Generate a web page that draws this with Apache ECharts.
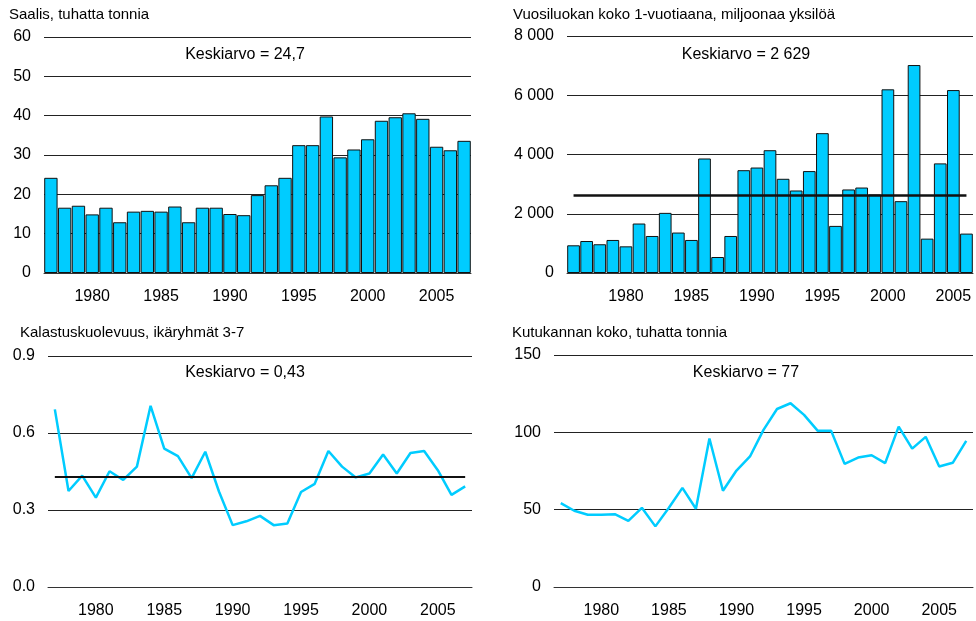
<!DOCTYPE html>
<html>
<head>
<meta charset="utf-8">
<script src="https://cdn.jsdelivr.net/npm/echarts@6/dist/echarts.min.js"></script>
<style>
  html, body { margin: 0; padding: 0; background: #fff; }
  #chart { width: 976px; height: 621px; }
</style>
</head>
<body>
<div id="chart"></div>
<script>
// vuodet
var years1 = [];   // 1977-2007 (saalis, kuolevuus, kutukanta)
for (var y = 1977; y <= 2007; y++) years1.push(String(y));
var years2 = [];   // 1976-2006 (vuosiluokka)
for (var y = 1976; y <= 2006; y++) years2.push(String(y));

// Saalis, tuhatta tonnia
var catch_ = [24.2, 16.6, 17.1, 14.9, 16.6, 12.9, 15.6, 15.8, 15.6, 16.9,
              12.9, 16.6, 16.6, 15.0, 14.7, 19.8, 22.3, 24.2, 32.5, 32.5,
              39.8, 29.4, 31.4, 34.0, 38.7, 39.6, 40.6, 39.2, 32.1, 31.2, 33.6];

// Vuosiluokan koko 1-vuotiaana, miljoonaa yksilöä
var recruits = [935, 1080, 970, 1115, 900, 1670, 1250, 2030, 1365, 1115,
                3865, 540, 1250, 3470, 3560, 4145, 3180, 2785, 3440, 4720,
                1590, 2820, 2885, 2650, 6200, 2425, 7020, 1160, 3700, 6175, 1330];

// Kalastuskuolevuus, ikäryhmät 3-7
var mortality = [0.692, 0.374, 0.434, 0.348, 0.451, 0.417, 0.469, 0.706, 0.539, 0.510,
                 0.424, 0.527, 0.372, 0.241, 0.256, 0.277, 0.241, 0.247, 0.370, 0.402,
                 0.530, 0.469, 0.427, 0.442, 0.516, 0.442, 0.522, 0.530, 0.455, 0.359, 0.392];

// Kutukannan koko, tuhatta tonnia
var ssb = [54.2, 49.3, 46.7, 46.7, 47.1, 42.8, 51.2, 39.2, 51.2, 64.1,
           50.6, 96.0, 62.2, 75.3, 84.4, 101.6, 115.1, 118.8, 111.3, 101.1,
           101.1, 79.6, 83.7, 85.2, 80.1, 103.7, 89.5, 97.1, 77.9, 80.3, 94.5];

// keskiarvot
var meanRecruits = 2629;
var meanMortality = 0.43;

var titles = ["Saalis, tuhatta tonnia", "Vuosiluokan koko 1-vuotiaana, miljoonaa yksilöä",
              "Kalastuskuolevuus, ikäryhmät 3-7", "Kutukannan koko, tuhatta tonnia"];
var meanTexts = ["Keskiarvo = 24,7", "Keskiarvo = 2 629", "Keskiarvo = 0,43", "Keskiarvo = 77"];

var font = "'Liberation Sans', Arial, sans-serif";
var cyan = "#00ccff";

function xAxis(idx, data) {
    return {
        type: "category", gridIndex: idx, data: data,
        axisLine: {lineStyle: {color: "#333", width: 1}},
        axisTick: {show: false},
        axisLabel: {
            interval: function (i, v) { return Number(v) % 5 === 0; },
            color: "#000", fontSize: 16, fontFamily: font, margin: 16
        }
    };
}

function yAxis(idx, max, interval, fmt) {
    return {
        type: "value", gridIndex: idx, min: 0, max: max, interval: interval,
        axisLine: {show: false}, axisTick: {show: false},
        splitLine: {lineStyle: {color: "#222", width: 1}},
        axisLabel: {color: "#000", fontSize: 16, fontFamily: font, margin: 13, formatter: fmt}
    };
}

function textEl(x, y, txt, size, align) {
    return {
        type: "text", x: x, y: y,
        style: {text: txt, fontSize: size, fontFamily: font, fill: "#000",
                align: align, verticalAlign: "middle"}
    };
}

var chart = echarts.init(document.getElementById("chart"));

var option = {
    animation: false,
    backgroundColor: "#fff",
    grid: [
        {left: 44, top: 37, width: 427, height: 236},
        {left: 567, top: 36, width: 406, height: 237},
        {left: 48, top: 356, width: 424, height: 231},
        {left: 554, top: 355, width: 419, height: 232}
    ],
    xAxis: [xAxis(0, years1), xAxis(1, years2), xAxis(2, years1), xAxis(3, years1)],
    yAxis: [
        yAxis(0, 60, 10),
        yAxis(1, 8000, 2000, function (v) { return v >= 1000 ? String(v).replace(/(\d)(\d{3})$/, "$1 $2") : v; }),
        yAxis(2, 0.9, 0.3, function (v) { return v.toFixed(1); }),
        yAxis(3, 150, 50)
    ],
    series: [
        {
            type: "bar", xAxisIndex: 0, yAxisIndex: 0, data: catch_,
            barCategoryGap: "3%",
            itemStyle: {color: cyan, borderColor: "#111", borderWidth: 1}
        },
        {
            type: "bar", xAxisIndex: 1, yAxisIndex: 1, data: recruits,
            barCategoryGap: "3%",
            itemStyle: {color: cyan, borderColor: "#111", borderWidth: 1},
            markLine: {
                silent: true, symbol: "none", label: {show: false},
                lineStyle: {color: "#111", width: 2.5, type: "solid"},
                data: [[{coord: [years2[0], meanRecruits]}, {coord: [years2[years2.length - 1], meanRecruits]}]]
            }
        },
        {
            type: "line", xAxisIndex: 2, yAxisIndex: 2, data: mortality,
            symbol: "none", lineStyle: {color: cyan, width: 2.5},
            markLine: {
                silent: true, symbol: "none", label: {show: false},
                lineStyle: {color: "#111", width: 2, type: "solid"},
                data: [[{coord: [years1[0], meanMortality]}, {coord: [years1[years1.length - 1], meanMortality]}]]
            }
        },
        {
            type: "line", xAxisIndex: 3, yAxisIndex: 3, data: ssb,
            symbol: "none", lineStyle: {color: cyan, width: 2.5}
        }
    ],
    graphic: [
        textEl(9, 15, titles[0], 15, "left"),
        textEl(513, 15, titles[1], 15, "left"),
        textEl(20, 333, titles[2], 15, "left"),
        textEl(512, 333, titles[3], 15, "left"),
        textEl(245, 55, meanTexts[0], 16, "center"),
        textEl(746, 55, meanTexts[1], 16, "center"),
        textEl(245, 373, meanTexts[2], 16, "center"),
        textEl(746, 373, meanTexts[3], 16, "center")
    ]
};

chart.setOption(option);
</script>
</body>
</html>
